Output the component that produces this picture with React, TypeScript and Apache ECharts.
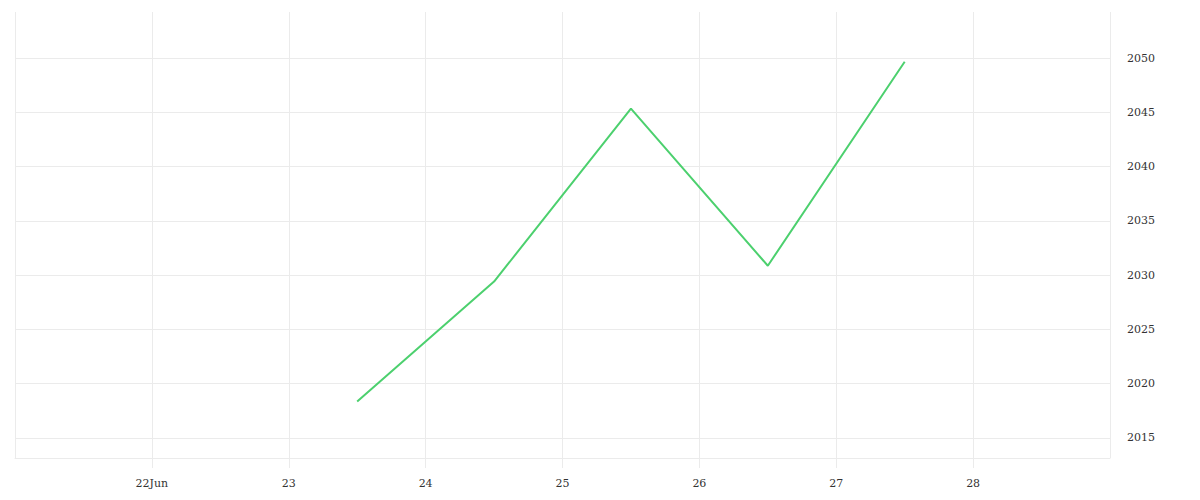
import React, { useEffect, useRef } from "react";
import * as echarts from "echarts";

const DAY = 86400000;
const dates = [
  "2024-06-23T12:00:00Z",
  "2024-06-24T12:00:00Z",
  "2024-06-25T12:00:00Z",
  "2024-06-26T12:00:00Z",
  "2024-06-27T12:00:00Z",
];
const values = [2018.35, 2029.4, 2045.34, 2030.86, 2049.66];
const xMinDate = "2024-06-21T00:00:00Z";
const xMaxDate = "2024-06-29T00:00:00Z";
const yMin = 2013.15;
const yMax = 2054.24;
const monthLabel = "Jun";

export default function App() {
  const ref = useRef<HTMLDivElement>(null);
  useEffect(() => {
    if (!ref.current) return;
    const chart = echarts.init(ref.current, undefined, { renderer: "svg" });
    const font = "'DejaVu Serif', serif";
    const firstLabelDay = new Date(xMinDate).getUTCDate() + 1;
    chart.setOption({
      animation: false,
      backgroundColor: "#ffffff",
      grid: { left: 15, right: 90, top: 12, bottom: 42, containLabel: false },
      xAxis: {
        type: "value",
        min: Date.parse(xMinDate),
        max: Date.parse(xMaxDate),
        interval: DAY,
        axisLine: { show: true, lineStyle: { color: "#ebebeb", width: 1 } },
        axisTick: { show: true, length: 10, lineStyle: { color: "#ebebeb", width: 1 } },
        splitLine: { show: true, lineStyle: { color: "#ebebeb", width: 1 } },
        axisLabel: {
          showMinLabel: false,
          showMaxLabel: false,
          margin: 20,
          color: "#333",
          fontFamily: font,
          fontSize: 11,
          formatter: (v: number) => {
            const d = new Date(v).getUTCDate();
            return d === firstLabelDay ? `${d}${monthLabel}` : `${d}`;
          },
        },
      },
      yAxis: {
        type: "value",
        position: "right",
        min: yMin,
        max: yMax,
        splitNumber: 8,
        axisLine: { show: false },
        axisTick: { show: false },
        splitLine: {
          show: true,
          showMinLine: true,
          showMaxLine: false,
          lineStyle: { color: "#ebebeb", width: 1 },
        },
        axisLabel: {
          showMinLabel: false,
          showMaxLabel: false,
          margin: 17,
          padding: [5, 0, 0, 0],
          color: "#333",
          fontFamily: font,
          fontSize: 11,
          formatter: (v: number) => `${Math.round(v)}`,
        },
      },
      series: [
        {
          type: "line",
          data: dates.map((d, i) => [Date.parse(d), values[i]]),
          showSymbol: false,
          symbol: "none",
          lineStyle: { color: "#4cd06e", width: 2 },
          itemStyle: { color: "#4cd06e" },
        },
      ],
    });
    return () => chart.dispose();
  }, []);
  return (
    <div
      ref={ref}
      style={{ position: "fixed", left: 0, top: 0, width: 1200, height: 500 }}
    />
  );
}
